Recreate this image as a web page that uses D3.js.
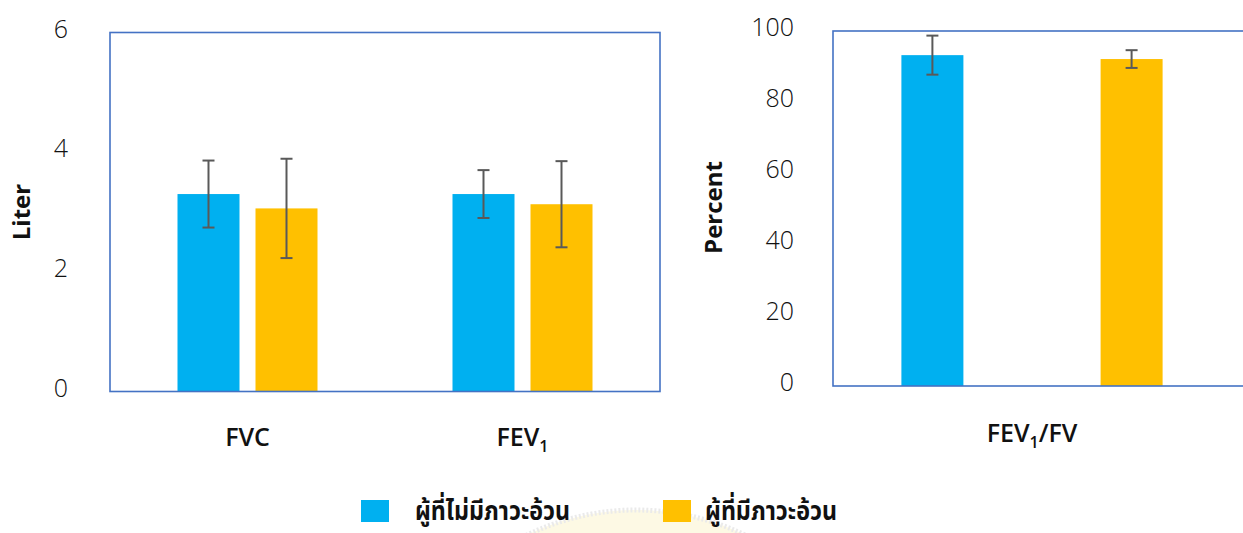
<!DOCTYPE html>
<html>
<head>
<meta charset="utf-8">
<script src="https://cdn.jsdelivr.net/npm/d3@7"></script>
<style>
  html, body { margin: 0; padding: 0; background: #fff; }
  svg { display: block; }
  .tick-lbl { font-family: "Open Sans", "Noto Sans", sans-serif; font-weight: 300; font-size: 25px; fill: #111; }
  .cat-lbl { font-family: "Open Sans", "Noto Sans", sans-serif; font-weight: 600; font-size: 25px; fill: #111; }
  .ax-title { font-family: "Open Sans", "Noto Sans", sans-serif; font-weight: 700; font-size: 24px; fill: #111; }
  .leg-lbl { font-family: "Noto Sans Thai", "Noto Sans", "Loma", "Garuda", sans-serif; font-weight: 700; font-size: 27px; fill: #111; }
</style>
</head>
<body>
<svg id="chart" width="1243" height="533"></svg>
<script>
// Series (groups) and their colours
const series = ["ผู้ที่ไม่มีภาวะอ้วน", "ผู้ที่มีภาวะอ้วน"];
const seriesColors = ["#00B0F0", "#FFC000"];

// Volume panel (litres)
const volCategories = ["FVC", "FEV1"];
const volMeans = [[3.30, 3.06], [3.30, 3.13]];   // [category][series]
const volSD    = [[0.56, 0.83], [0.40, 0.72]];
const volTicks = [0, 2, 4, 6];

// Ratio panel (percent)
const ratioCategories = ["FEV1/FV"];
const ratioMeans = [[93.2, 92.1]];
const ratioSD    = [[5.5, 2.5]];
const ratioTicks = [0, 20, 40, 60, 80, 100];

const svg = d3.select("#chart");

// Light watermark emblem behind the legend
svg.append("circle")
  .attr("cx", 636).attr("cy", 760).attr("r", 250)
  .attr("fill", "#fdf8dc").attr("stroke", "#e4e4e4").attr("stroke-width", 5)
  .attr("stroke-dasharray", "2 2").attr("opacity", 0.75);

// Renders a category label, turning a trailing "1" after FEV into a subscript
function catText(sel, label) {
  const m = label.match(/^(FEV)1(.*)$/);
  if (m) {
    sel.append("tspan").text(m[1]);
    sel.append("tspan").attr("font-size", "16px").attr("dy", 6).text("1");
    if (m[2]) sel.append("tspan").attr("dy", -6).text(m[2]);
  } else {
    sel.text(label);
  }
}

function panel(cfg) {
  const g = svg.append("g");
  const y = d3.scaleLinear().domain(cfg.yDomain).range([cfg.bottom, cfg.top]);
  const x0 = d3.scaleBand().domain(cfg.categories).range(cfg.bandRange);
  const x1 = d3.scalePoint().domain(series).range([-cfg.spread, cfg.spread]);
  const bw = 62;

  // y tick labels (axis line hidden; frame drawn separately)
  const axis = d3.axisLeft(y).tickValues(cfg.ticks).tickFormat(d3.format("d"))
    .tickSize(0).tickPadding(cfg.labelGap);
  const ag = g.append("g").attr("transform", `translate(${cfg.left},0)`).call(axis);
  ag.select(".domain").remove();
  ag.selectAll("text").attr("class", "tick-lbl").attr("font-family", null).attr("font-size", null)
    .attr("fill", null).attr("dy", "0.32em").attr("y", -3.5);

  // bars
  cfg.categories.forEach((c, ci) => {
    const cx = x0(c) + x0.bandwidth() / 2;
    series.forEach((s, si) => {
      const v = cfg.means[ci][si];
      const sd = cfg.sd[ci][si];
      const bx = cx + x1(s);
      g.append("rect")
        .attr("x", bx - bw / 2).attr("width", bw)
        .attr("y", y(v)).attr("height", y(0) - y(v))
        .attr("fill", seriesColors[si]);
      // error bar
      const eg = g.append("g").attr("stroke", "#595959").attr("stroke-width", 2);
      eg.append("line").attr("x1", bx).attr("x2", bx).attr("y1", y(v + sd)).attr("y2", y(v - sd));
      [v + sd, v - sd].forEach(e => {
        eg.append("line").attr("x1", bx - 6).attr("x2", bx + 6).attr("y1", y(e)).attr("y2", y(e));
      });
    });
    const t = g.append("text").attr("class", "cat-lbl")
      .attr("x", cx).attr("y", cfg.catY).attr("text-anchor", "middle");
    catText(t, c);
  });

  // frame
  g.append("rect")
    .attr("x", cfg.left).attr("y", cfg.top)
    .attr("width", cfg.right - cfg.left).attr("height", cfg.bottom - cfg.top)
    .attr("fill", "none").attr("stroke", "#4472C4").attr("stroke-width", 1.6);

  // y title
  g.append("text").attr("class", "ax-title")
    .attr("transform", `translate(${cfg.titleX},${(cfg.top + cfg.bottom) / 2 + cfg.titleDy}) rotate(-90)`)
    .attr("text-anchor", "middle").attr("dy", "0.35em")
    .text(cfg.title);
}

panel({
  categories: volCategories, means: volMeans, sd: volSD, ticks: volTicks,
  yDomain: [0, 6], left: 110, right: 660, top: 32.5, bottom: 391.5,
  bandRange: [110, 660], spread: 39, labelGap: 42, catY: 446,
  title: "Liter", titleX: 22, titleDy: 0
});

panel({
  categories: ratioCategories, means: ratioMeans, sd: ratioSD, ticks: ratioTicks,
  yDomain: [0, 100], left: 833, right: 1300, top: 31, bottom: 386,
  bandRange: [833, 1231], spread: 99.6, labelGap: 39, catY: 442,
  title: "Percent", titleX: 714, titleDy: -1
});

// legend
const leg = svg.append("g");
const legX = [361, 663];
const legTextX = [415, 705];
const legTextW = [155, 132];
series.forEach((s, i) => {
  leg.append("rect").attr("x", legX[i]).attr("y", 500).attr("width", 28).attr("height", 22)
    .attr("fill", seriesColors[i]);
  leg.append("text").attr("class", "leg-lbl")
    .attr("x", legTextX[i]).attr("y", 520)
    .attr("textLength", legTextW[i]).attr("lengthAdjust", "spacingAndGlyphs")
    .text(s);
});
</script>
</body>
</html>
